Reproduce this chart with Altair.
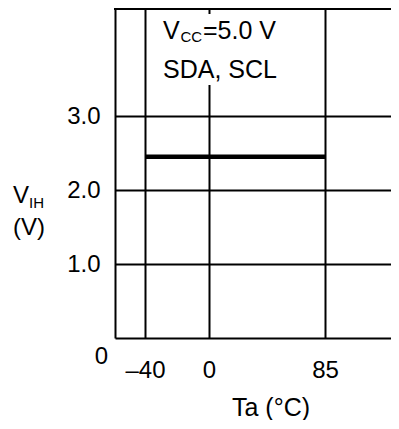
import altair as alt
import pandas as pd

# ---- data ----
temps = [-40, 85]          # Ta (°C)
vih = [2.45, 2.45]         # VIH (V)
x_ticks = [-40, 0, 85]
y_ticks = [1.0, 2.0, 3.0]
note_lines = ["SDA, SCL"]

FONT = "Liberation Sans"
W, H = 276, 329

line_df = pd.DataFrame({"Ta": temps, "VIH": vih})
one = pd.DataFrame({"k": [0]})

xscale = alt.Scale(domain=[-58.75, -40, 0, 85, 133.4],
                   range=[0, 30, 94, 210, 276], nice=False, zero=False)
yscale = alt.Scale(domain=[0, 4.446], nice=False, zero=False)

axis_common = dict(grid=True, gridColor="black", gridWidth=2, gridOpacity=1,
                   domain=True, domainColor="black", domainWidth=2, ticks=False,
                   labelFont=FONT, labelFontSize=24, labelColor="black")

line = alt.Chart(line_df).mark_line(color="black", strokeWidth=4.5, strokeCap="butt").encode(
    x=alt.X("Ta:Q", scale=xscale, title=None,
            axis=alt.Axis(values=x_ticks, labelPadding=20, format="d",
                          labelExpr="datum.value < 0 ? '\u2013' + abs(datum.value) : datum.label",
                          **axis_common)),
    y=alt.Y("VIH:Q", scale=yscale, title=None,
            axis=alt.Axis(values=y_ticks, labelPadding=15, format=".1f", **axis_common)),
)

box = alt.Chart(one).mark_rect(color="white").encode(
    x=alt.value(48), x2=alt.value(170), y=alt.value(5), y2=alt.value(76))

top_border = alt.Chart(one).mark_rule(color="black", strokeWidth=2).encode(
    x=alt.value(-1), x2=alt.value(W), y=alt.value(0))


def txt(s, x, y, size, align="left"):
    return alt.Chart(one).mark_text(text=s, font=FONT, fontSize=size, color="black",
                                    align=align, baseline="alphabetic").encode(
        x=alt.value(x), y=alt.value(y))


texts = [
    txt("V", 48, 30, 25),
    txt("CC", 65.5, 33, 15),
    txt("=5.0 V", 88, 30, 25),
    txt(note_lines[0], 48, 69, 25),
    txt("V", -102, 194, 24),
    txt("IH", -86, 199, 15),
    txt("(V)", -102, 226, 24),
    txt("0", -7, 355, 24, "right"),
    txt("Ta (\u00b0C)", 156, 407, 25, "center"),
]

chart = alt.layer(box, top_border, line, *texts).properties(
    width=W, height=H, autosize="none",
    padding={"left": 107, "top": 1, "right": 0, "bottom": 82},
).configure_view(stroke=None)

chart.save("out.html", embed_options={"renderer": "svg", "actions": False})
